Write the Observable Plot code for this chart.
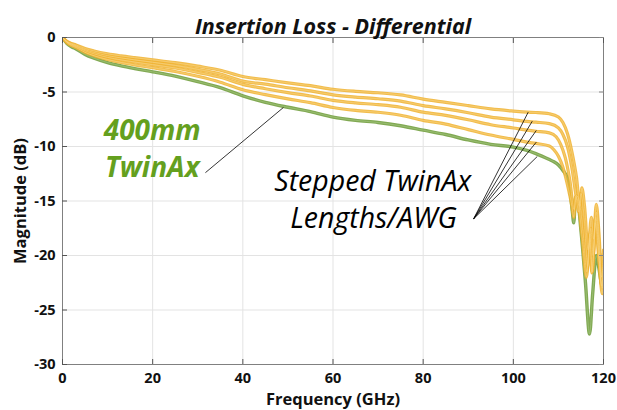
<!DOCTYPE html>
<html><head><meta charset="utf-8">
<script src="https://cdn.jsdelivr.net/npm/d3@7"></script>
<script src="https://cdn.jsdelivr.net/npm/@observablehq/plot@0.6"></script>
<style>body{margin:0;background:#fff;}</style>
</head><body><div id="chart"></div>
<script>
// ---- data ----
const freq = [0,1,2,3,5,7,10,13,16,20,25,30,35,40,45,50,55,60,65,70,75,80,85,90,95,100,103,105,108];
const twinAx400 = [0,-0.55,-0.85,-1.05,-1.55,-1.9,-2.3,-2.6,-2.85,-3.15,-3.55,-4.05,-4.6,-5.35,-5.95,-6.4,-6.8,-7.3,-7.6,-7.8,-8.1,-8.5,-8.9,-9.4,-9.8,-10.05,-10.35,-10.65,-11.2];
const stepped1 = [0,-0.36,-0.55,-0.68,-1.01,-1.24,-1.5,-1.69,-1.85,-2.05,-2.31,-2.63,-3.0,-3.58,-3.87,-4.16,-4.42,-4.75,-4.94,-5.07,-5.27,-5.65,-5.95,-6.25,-6.55,-6.75,-6.85,-6.88,-7.0];
const stepped2 = [0,-0.40,-0.61,-0.76,-1.12,-1.37,-1.66,-1.87,-2.05,-2.27,-2.56,-2.92,-3.35,-4.0,-4.28,-4.61,-4.90,-5.26,-5.47,-5.62,-5.83,-6.25,-6.55,-6.9,-7.3,-7.55,-7.7,-7.77,-7.9];
const stepped3 = [0,-0.43,-0.67,-0.83,-1.22,-1.50,-1.82,-2.05,-2.25,-2.49,-2.80,-3.20,-3.65,-4.3,-4.70,-5.06,-5.37,-5.77,-6.00,-6.16,-6.40,-6.85,-7.15,-7.55,-8.0,-8.3,-8.5,-8.6,-8.75];
const stepped4 = [0,-0.48,-0.75,-0.92,-1.36,-1.67,-2.02,-2.29,-2.51,-2.77,-3.12,-3.56,-4.1,-4.8,-5.24,-5.63,-5.98,-6.42,-6.69,-6.86,-7.13,-7.6,-7.95,-8.45,-8.95,-9.35,-9.6,-9.72,-9.95];

// resonance region (above 108 GHz)
const twinAx400TailF  = [109,110,111,112,112.7,113.1,113.4,113.8,114.3,115,116,116.9,117.6,118.4,119,119.6,120];
const twinAx400TailDb = [-11.4,-11.7,-12.2,-12.9,-14.5,-16.0,-17.0,-14.7,-15.0,-17.7,-22.5,-27.2,-23.5,-20.0,-21.2,-22.6,-21.8];
const stepped1TailF  = [110,111,112,113,114,114.8,115.2,115.8,116.6,117.3,117.8,118.4,119,119.6,120];
const stepped1TailDb = [-7.3,-7.8,-8.8,-10.5,-12.8,-15.5,-13.8,-15.5,-19.5,-16.5,-18.5,-15.3,-18.0,-22.0,-19.5];
const stepped2TailF  = [110,111,112,113,113.9,114.5,115,115.7,116.5,117.2,117.7,118.4,119,119.7,120];
const stepped2TailDb = [-8.3,-8.9,-10.0,-12.0,-14.5,-16.0,-14.3,-16.5,-21.0,-17.5,-20.0,-16.0,-19.0,-23.0,-20.5];
const stepped3TailF  = [109.5,110.5,111.5,112.5,113.5,114,114.6,115.5,116.3,117,117.5,118.3,119,119.7,120];
const stepped3TailDb = [-9.1,-9.8,-11.0,-13.0,-15.8,-14.5,-15.0,-18.0,-21.5,-18.0,-21.5,-16.5,-20.0,-23.5,-21.5];
const stepped4TailF  = [109,110,111,112,113,113.4,113.8,114.4,115.3,116.2,117,117.4,118.2,119,119.6,120];
const stepped4TailDb = [-10.3,-10.9,-11.9,-13.5,-15.5,-16.5,-14.6,-15.2,-18.5,-22,-18.5,-21.6,-17,-20.5,-22.8,-21];

const xTicks = [0,20,40,60,80,100,120];
const yTicks = [0,-5,-10,-15,-20,-25,-30];

const titleText = "Insertion Loss - Differential";
const xLabel = "Frequency (GHz)";
const yLabel = "Magnitude (dB)";

// annotations (data units)
const label400 = ["400mm", "TwinAx"];
const label400F = [19.9, 19.9];
const label400Db = [-8.55, -12.0];
const pointer400F = [31.7, 49.0];
const pointer400Db = [-12.4, -6.42];

const labelStepped = ["Stepped TwinAx", "Lengths/AWG"];
const labelSteppedF = [68.8, 69.0];
const labelSteppedDb = [-13.2, -16.6];
const stepHubF = 91.2, stepHubDb = -16.63;
const stepTipF  = [103.3, 104.2, 105.1, 105.1, 105.3];
const stepTipDb = [-6.85, -7.68, -8.53, -9.6, -10.92];

// ---- build tables ----
function series(name, vals, tf, tdb) {
  const rows = freq.map((f, i) => ({f, db: vals[i], s: name}));
  tf.forEach((f, i) => rows.push({f, db: tdb[i], s: name}));
  return rows;
}
const greenRows = series("400mm TwinAx", twinAx400, twinAx400TailF, twinAx400TailDb);
const orangeRows = [
  ...series("S4", stepped4, stepped4TailF, stepped4TailDb),
  ...series("S3", stepped3, stepped3TailF, stepped3TailDb),
  ...series("S2", stepped2, stepped2TailF, stepped2TailDb),
  ...series("S1", stepped1, stepped1TailF, stepped1TailDb)
];
const labels400 = label400.map((t, i) => ({t, f: label400F[i], db: label400Db[i]}));
const pointer400 = [{f1: pointer400F[0], d1: pointer400Db[0], f2: pointer400F[1], d2: pointer400Db[1]}];
const labelsStep = labelStepped.map((t, i) => ({t, f: labelSteppedF[i], db: labelSteppedDb[i]}));
const stepLines = stepTipF.map((f, i) => ({f1: stepHubF, d1: stepHubDb, f2: f, d2: stepTipDb[i]}));

const ORANGE = "#F0B22E", GREEN = "#6B9A35";
const FONT = "'Open Sans', sans-serif";
const fmt = d => String(d);

const chart = Plot.plot({
  width: 617, height: 410,
  marginLeft: 62, marginRight: 14, marginTop: 37, marginBottom: 46,
  style: {fontFamily: FONT, background: "#fff", color: "#111"},
  x: {domain: [0, 120], ticks: xTicks},
  y: {domain: [-30, 0], ticks: yTicks},
  marks: [
    Plot.gridX(xTicks, {stroke: "#e3e3e3", strokeOpacity: 1}),
    Plot.gridY(yTicks, {stroke: "#e3e3e3", strokeOpacity: 1}),
    Plot.line(greenRows, {x: "f", y: "db", z: "s", stroke: GREEN, strokeWidth: 3.4, strokeOpacity: 0.85, curve: "monotone-x", clip: true}),
    Plot.line(greenRows, {x: "f", y: "db", z: "s", stroke: "#a9c985", strokeWidth: 1, strokeOpacity: 0.6, curve: "monotone-x", clip: true}),
    Plot.line(orangeRows, {x: "f", y: "db", z: "s", stroke: ORANGE, strokeWidth: 3.2, strokeOpacity: 0.85, curve: "monotone-x", clip: true}),
    Plot.line(orangeRows, {x: "f", y: "db", z: "s", stroke: "#f8d585", strokeWidth: 1, strokeOpacity: 0.6, curve: "monotone-x", clip: true}),
    Plot.frame({stroke: "#808080"}),
    Plot.axisX(xTicks, {anchor: "bottom", tickSize: -5, stroke: "#555", tickFormat: () => ""}),
    Plot.axisX(xTicks, {anchor: "top", tickSize: -5, stroke: "#555", tickFormat: () => ""}),
    Plot.axisY(yTicks, {anchor: "left", tickSize: -5, stroke: "#555", tickFormat: () => ""}),
    Plot.axisY(yTicks, {anchor: "right", tickSize: -5, stroke: "#888", tickFormat: () => ""}),
    Plot.axisX(xTicks, {anchor: "bottom", tickSize: 0, tickPadding: 8, tickFormat: fmt, fontSize: 14.5, fontWeight: "bold", fill: "#111", label: null}),
    Plot.axisY(yTicks, {anchor: "left", tickSize: 0, tickPadding: 7, tickFormat: fmt, fontSize: 14.5, fontWeight: "bold", fill: "#111", label: null}),
    Plot.text([xLabel], {frameAnchor: "bottom", dy: 40.5, text: d => d, fontSize: 16.5, fontWeight: "bold", fill: "#111"}),
    Plot.text([yLabel], {frameAnchor: "left", dx: -42, rotate: -90, textAnchor: "middle", text: d => d, fontSize: 16.5, fontWeight: "bold", fill: "#111"}),
    Plot.text([titleText], {frameAnchor: "top", dy: -19, text: d => d, fontFamily: FONT, fontSize: 21.5, fontWeight: "bold", fontStyle: "italic", fill: "#111"}),
    Plot.link(pointer400, {x1: "f1", y1: "d1", x2: "f2", y2: "d2", stroke: "#000", strokeWidth: 0.8}),
    Plot.link(stepLines, {x1: "f1", y1: "d1", x2: "f2", y2: "d2", stroke: "#000", strokeWidth: 0.8}),
    Plot.text(labels400, {x: "f", y: "db", text: "t", fontSize: 28, fontWeight: "bold", fontStyle: "italic", fill: "#64A01E"}),
    Plot.text(labelsStep, {x: "f", y: "db", text: "t", fontSize: 28.5, fontWeight: "normal", fontStyle: "italic", fill: "#000"})
  ]
});
document.getElementById("chart").appendChild(chart);
</script>
</body></html>
